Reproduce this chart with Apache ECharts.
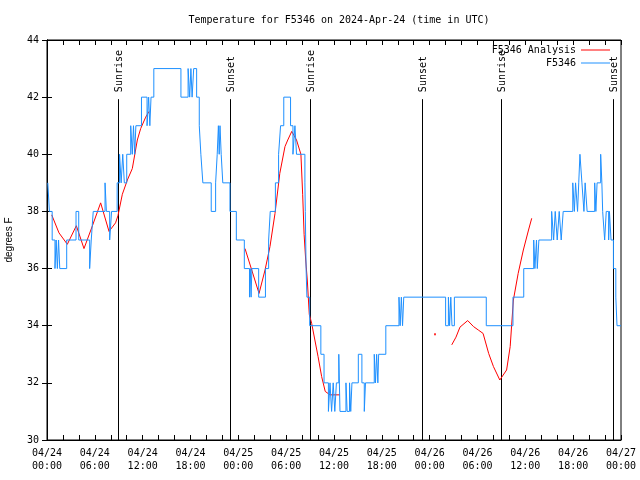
<!DOCTYPE html>
<html><head><meta charset="utf-8">
<script src="https://cdn.jsdelivr.net/npm/echarts@6/dist/echarts.min.js"></script>
<style>html,body{margin:0;padding:0;background:#fff}#c{width:640px;height:480px}</style>
</head><body><div id="c"></div>
<script>
// Hours since 2024-04-24 00:00 UTC
const xTickLabels = ['04/24\n00:00','04/24\n06:00','04/24\n12:00','04/24\n18:00','04/25\n00:00','04/25\n06:00','04/25\n12:00','04/25\n18:00','04/26\n00:00','04/26\n06:00','04/26\n12:00','04/26\n18:00','04/27\n00:00'];
const yTickValues = [30,32,34,36,38,40,42,44];

// Observed F5346 temperature (°F), change points [hour, value]
const stationTimes = [0.1,0.3,0.65,1.0,1.15,1.3,1.45,1.6,2.47,3.64,3.98,5.35,5.55,5.8,7.28,7.45,7.86,8.1,8.8,9.1,9.3,9.5,9.7,10.0,10.5,10.7,10.85,11.0,11.15,11.85,12.55,12.75,12.9,13.05,13.4,16.8,17.7,17.9,18.05,18.2,18.4,18.77,19.1,19.3,19.55,20.6,21.15,21.35,21.5,21.6,21.7,21.85,22.05,22.95,23.75,24.75,25.4,25.5,25.6,25.7,26.55,27.4,27.8,28.0,28.65,29.05,29.3,29.7,30.55,30.85,31.1,31.3,32.35,32.4,32.45,32.5,32.6,32.95,34.35,34.75,35.3,35.5,35.7,35.9,36.1,36.3,36.6,36.75,37.5,37.65,37.95,38.1,38.25,39.05,39.5,39.8,39.95,41.05,41.2,41.35,41.5,41.6,42.5,44.15,44.3,44.45,44.6,44.75,50.0,50.35,50.5,50.65,50.8,51.1,55.1,58.45,59.8,61.05,61.2,61.4,61.5,61.7,63.3,63.55,63.75,64.0,64.25,64.5,64.75,65.95,66.15,66.3,66.55,66.7,66.85,67.1,67.35,67.5,67.75,68.7,68.85,69.0,69.45,69.6,69.7,69.95,70.15,70.45,70.55,70.75,71.05,71.35,71.5,72.0];
const stationTemps = [39,38,37,36,37,36,37,36,37,38,37,36,37,38,39,38,37,38,39,40,39,40,39,40,41,40,41,40,41,42,41,42,41,42,43,42,43,42,43,42,43,42,41,40,39,38,39,40,41,40,41,40,39,38,37,36,35,36,35,36,35,36,37,38,39,40,41,42,41,40,41,40,39,38,37,36,35,34,33,32,31,32,31,32,31,32,33,31,32,31,32,31,32,33,32,31,32,33,32,33,32,33,34,35,34,35,34,35,34,35,34,35,34,35,34,35,36,37,36,37,36,37,38,37,38,37,38,37,38,39,38,39,38,39,40,39,38,39,38,39,38,39,40,39,38,37,38,37,38,37,36,35,34,34];

// F5346 Analysis (°F); null = gap
const analysisTimes = [0.59,1.5,2.55,3.68,4.64,5.7,6.73,7.78,8.6,8.9,9.45,10.08,10.7,11.33,11.75,12.38,12.8,13.5, 24.84,26.6,27.35,27.97,28.6,29.2,29.85,30.2,30.7,31.0,31.3,31.85,32.07,32.25,32.45,32.65,32.9,33.2,33.6,34.0,34.45,34.9,35.5,36.75,40, 48.67,49.5, 50.77,51.3,51.8,52.77,53.5,54.1,54.7,55.4,56.0,56.8,57.65,58.1,58.5,59.1,59.75,60.4,60.8];
const analysisTemps = [37.88,37.25,36.85,37.5,36.7,37.5,38.3,37.3,37.6,37.85,38.6,39.1,39.5,40.5,40.9,41.3,41.5,null, 36.7,35.13,35.95,36.77,37.93,39.33,40.27,40.5,40.8,40.65,40.5,40.0,38.6,37.2,36.3,35.6,34.4,34.08,33.5,32.92,32.22,31.7,31.58,31.58,null, 33.7,null, 33.33,33.6,33.95,34.18,33.97,33.85,33.73,33.03,32.57,32.1,32.45,33.27,34.9,35.83,36.65,37.35,37.76];

const sunTimes = [8.95,22.97,33.02,47.0,57.0,71.05];
const sunNames = ['Sunrise','Sunset','Sunrise','Sunset','Sunrise','Sunset'];
const sunLineTop = 41.93;

const MONO = '"DejaVu Sans Mono", "Liberation Mono", monospace';

const stationData = stationTimes.map((t,i)=>[t, stationTemps[i]]);
const analysisData = analysisTimes.map((t,i)=>[t, analysisTemps[i]==null ? '-' : analysisTemps[i]]);
const isolated = analysisTimes.map((t,i)=>[t, analysisTemps[i]]).filter((p,i)=>
  p[1]!=null && (i===0 || analysisTemps[i-1]==null) && (i===analysisTemps.length-1 || analysisTemps[i+1]==null));

const chart = echarts.init(document.getElementById('c'), null, {renderer:'canvas'});
const axisCommon = {
  axisLine:{show:true, lineStyle:{color:'#000', width:1}},
  axisTick:{show:true, inside:true, length:5, lineStyle:{color:'#000', width:1}},
  splitLine:{show:false}
};
const legendCommon = {orient:'vertical', right:30, align:'right', icon:'rect', itemWidth:29, itemHeight:1, padding:0,
  textStyle:{fontFamily:MONO, fontSize:10, color:'#000'}, selectedMode:false};
chart.setOption({
  animation:false,
  backgroundColor:'#fff',
  title:{text:'Temperature for F5346 on 2024-Apr-24 (time in UTC)', left:334, textAlign:'center', top:10,
    textStyle:{fontFamily:MONO, fontSize:10, fontWeight:'normal', color:'#000'}},
  legend:[
    Object.assign({data:['F5346 Analysis'], top:45}, legendCommon),
    Object.assign({data:['F5346'], top:58}, legendCommon)
  ],
  grid:{left:47, right:19, top:40, bottom:40, containLabel:false, outerBoundsMode:'none',
    show:true, borderColor:'#000', borderWidth:1, backgroundColor:'transparent'},
  xAxis:[
    Object.assign({type:'value', min:0, max:72, interval:2, position:'bottom',
      axisLabel:{formatter:v=> (v%6===0 ? xTickLabels[v/6] : ''), fontFamily:MONO, fontSize:10, color:'#000', margin:7, lineHeight:13}}, axisCommon),
    Object.assign({type:'value', min:0, max:72, interval:2, position:'top', axisLabel:{show:false}}, axisCommon)
  ],
  yAxis:[
    Object.assign({type:'value', min:30, max:44, interval:2, position:'left',
      name:'degrees F', nameLocation:'middle', nameGap:33, nameRotate:90,
      nameTextStyle:{fontFamily:'"Liberation Sans", Arial, sans-serif', fontSize:10, color:'#000'},
      axisLabel:{formatter:v=>String(yTickValues[yTickValues.indexOf(v)]), fontFamily:MONO, fontSize:10, color:'#000', margin:8}}, axisCommon),
    Object.assign({type:'value', min:30, max:44, interval:2, position:'right', axisLabel:{show:false}}, axisCommon)
  ],
  series:[
    {type:'custom', name:'sun', silent:true, z:1,
      data: sunTimes.map(t=>[t,30]),
      encode:{x:0,y:1},
      renderItem:(params, api)=>{
        const h = api.value(0);
        const p0 = api.coord([h,30]);
        const p1 = api.coord([h,sunLineTop]);
        const x = Math.round(p0[0]) + 0.5;
        return {type:'group', children:[
          {type:'line', shape:{x1:x, y1:p0[1], x2:x, y2:p1[1]}, style:{stroke:'#000', lineWidth:1}},
          {type:'text', x:x+1, y:p1[1]-7, rotation:Math.PI/2,
            style:{text:sunNames[params.dataIndex], font:'10px '+MONO, fill:'#000', align:'left', verticalAlign:'middle'}}
        ]};
      }
    },
    {type:'line', name:'F5346 Analysis', data:analysisData, symbol:'none', connectNulls:false, z:2,
      lineStyle:{color:'#ff0000', width:1}, itemStyle:{color:'#ff0000'}},
    {type:'scatter', name:'F5346 Analysis ', data:isolated, symbol:'rect', symbolSize:2, z:2,
      itemStyle:{color:'#ff0000'}},
    {type:'line', name:'F5346', data:stationData, step:'end', symbol:'none', z:3,
      lineStyle:{color:'#1e90ff', width:1}, itemStyle:{color:'#1e90ff'}}
  ]
});
</script>
</body></html>
